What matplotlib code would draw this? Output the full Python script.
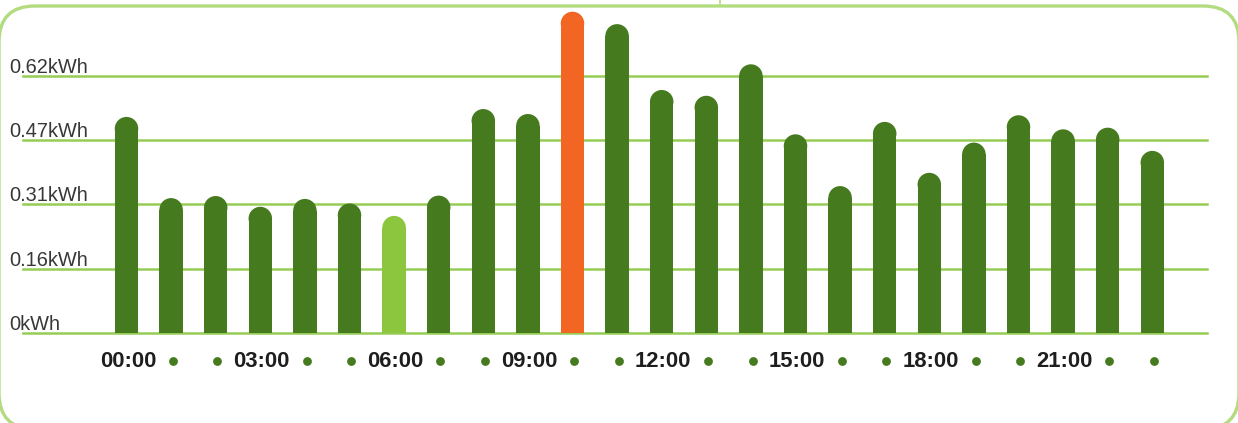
import numpy as np
import matplotlib
matplotlib.use("Agg")
import matplotlib.pyplot as plt
from matplotlib.patches import FancyBboxPatch
import matplotlib.transforms as mtransforms

# consumo por hora (kWh)
horas = [f"{h:02d}:00" for h in range(24)]
consumo = [0.521, 0.325, 0.330, 0.304, 0.323, 0.312, 0.282, 0.331,
           0.540, 0.528, 0.775, 0.745, 0.586, 0.572, 0.648, 0.479,
           0.354, 0.509, 0.386, 0.459, 0.525, 0.491, 0.495, 0.439]
yticks = [0, 0.155, 0.31, 0.465, 0.62]
ylabels = ["0kWh", "0.16kWh", "0.31kWh", "0.47kWh", "0.62kWh"]

VERDE = "#467a1f"
VERDE_CLARO = "#8cc63f"
NARANJA = "#f26522"
REJILLA = "#95cc55"
MARCO = "#b3dc80"

W, H = 1238, 423
fig = plt.figure(figsize=(W / 100, H / 100), dpi=100)
plt.rcParams["font.family"] = ["Liberation Sans", "DejaVu Sans"]

# fondo con marco redondeado (en píxeles)
bg = fig.add_axes([0, 0, 1, 1], zorder=0)
bg.set_xlim(0, W); bg.set_ylim(0, H); bg.axis("off")
# y hacia arriba: marco de y=H-6 (arriba) a y=-6 (abajo, fuera de la imagen)
bg.add_patch(FancyBboxPatch((-1, -6), W + 2, H - 12 + 6 + 6, boxstyle="round,pad=0,rounding_size=36",
                            fill=False, ec=MARCO, lw=2.4, clip_on=False))
bg.plot([719.5, 719.5], [H, H - 6], color=MARCO, lw=1.2)

# área del gráfico
x0, x1, ytop, ybot = 23, 1207, 11.7, 332.7
ax = fig.add_axes([x0 / W, (H - ybot) / H, (x1 - x0) / W, (ybot - ytop) / H], zorder=1)
ax.patch.set_alpha(0)
for s in ax.spines.values():
    s.set_visible(False)

paso = 44.6
xs = np.arange(len(consumo))
ax.set_xlim((x0 - 126.5) / paso, (x1 - 126.5) / paso)
ax.set_ylim(0, max(consumo))

for t in yticks:
    ax.axhline(t, color=REJILLA, lw=1.8, zorder=1, clip_on=False)

colores = [VERDE] * len(consumo)
colores[int(np.argmax(consumo))] = NARANJA
colores[int(np.argmin(consumo))] = VERDE_CLARO

ancho_px = 23.5
ancho = ancho_px / paso
r = (ancho_px / 2) / ((ybot - ytop) / max(consumo))  # radio del remate en kWh
vals = np.array(consumo)
ax.bar(xs, vals - r, width=ancho, color=colores, zorder=2, linewidth=0)
ax.scatter(xs, vals - r, s=(ancho_px * 0.72) ** 2, c=colores, marker="o",
           linewidths=0, zorder=2, clip_on=False)

# etiquetas eje y
tr = mtransforms.blended_transform_factory(fig.transFigure, ax.transData)
for t, lab in zip(yticks, ylabels):
    ax.text(9 / W, t, lab, transform=mtransforms.offset_copy(tr, fig=fig, y=3, units="dots"),
            ha="left", va="baseline", fontsize=14.4, color="#383838", clip_on=False)

# etiquetas eje x: hora cada 3, punto en el resto
ax.set_yticks([])
ax.set_xticks(xs[::3] + 0.03)
ax.set_xticklabels(horas[::3], fontsize=15.8, fontweight="bold", color="#1e1e1e")
ax.tick_params(axis="x", length=0, pad=13)
resto = [i for i in xs if i % 3 != 0]
trx = mtransforms.blended_transform_factory(ax.transData, ax.transAxes)
ax.scatter(np.array(resto) + 0.04, [-28.5 / (ybot - ytop)] * len(resto), s=40, c=VERDE,
           transform=trx, clip_on=False, zorder=3, linewidths=0)

fig.savefig("out.png", dpi=100)
